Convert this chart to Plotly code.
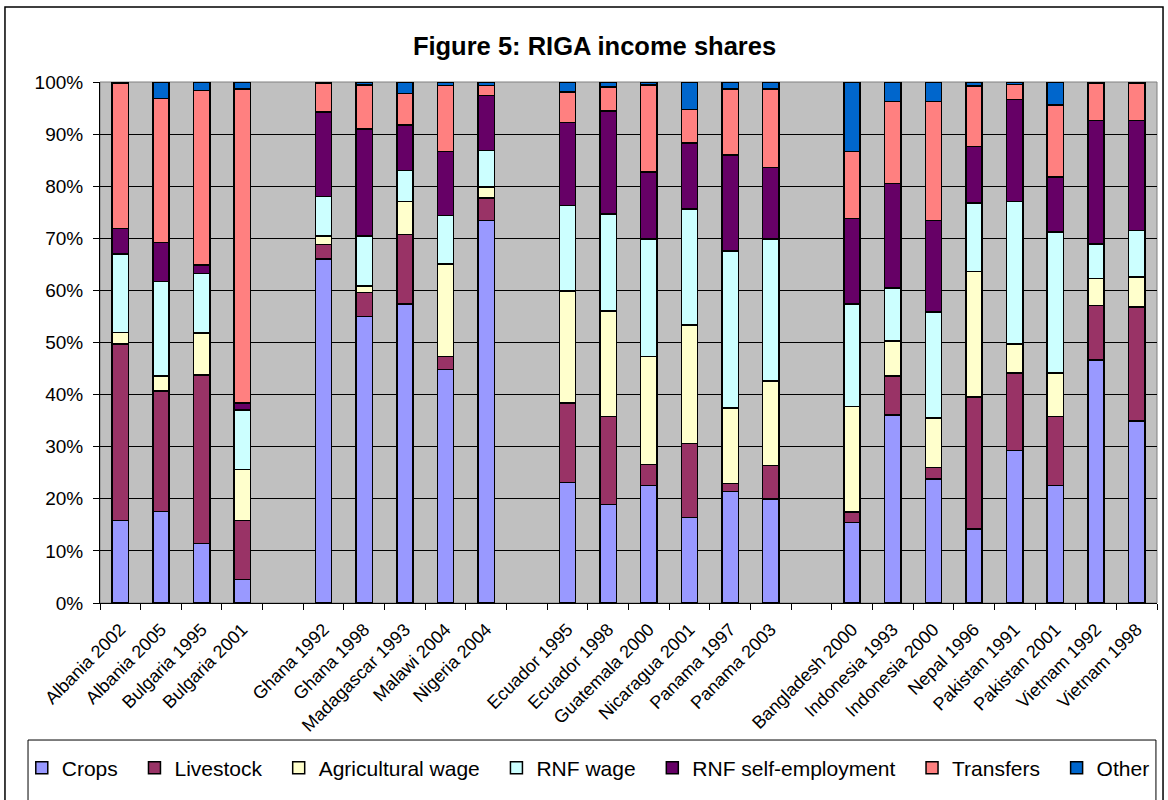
import plotly.graph_objects as go

# Survey groups (Eastern Europe, Africa, Latin America, Asia)
group_europe = ["Albania 2002", "Albania 2005", "Bulgaria 1995", "Bulgaria 2001"]
group_africa = ["Ghana 1992", "Ghana 1998", "Madagascar 1993", "Malawi 2004", "Nigeria 2004"]
group_latam = ["Ecuador 1995", "Ecuador 1998", "Guatemala 2000", "Nicaragua 2001",
               "Panama 1997", "Panama 2003"]
group_asia = ["Bangladesh 2000", "Indonesia 1993", "Indonesia 2000", "Nepal 1996",
              "Pakistan 1991", "Pakistan 2001", "Vietnam 1992", "Vietnam 1998"]

# Income shares (%), in survey order above
crops = [15.8, 17.6, 11.4, 4.5,
         66.0, 55.0, 57.4, 44.8, 73.4,
         23.1, 18.9, 22.6, 16.4, 21.4, 20.0,
         15.5, 36.1, 23.8, 14.2, 29.3, 22.6, 46.6, 34.9]
livestock = [33.9, 23.1, 32.4, 11.3,
             2.8, 4.6, 13.3, 2.5, 4.3,
             15.3, 16.9, 4.0, 14.2, 1.5, 6.4,
             2.0, 7.5, 2.2, 25.3, 14.8, 13.2, 10.5, 21.9]
ag_wage = [2.2, 2.9, 8.0, 9.8,
           1.6, 1.2, 6.4, 17.8, 2.1,
           21.5, 20.2, 20.7, 22.8, 14.5, 16.2,
           20.2, 6.7, 9.5, 24.1, 5.6, 8.3, 5.2, 5.8]
rnf_wage = [15.1, 18.1, 11.4, 11.4,
            7.6, 9.6, 5.9, 9.3, 7.1,
            16.4, 18.7, 22.6, 22.2, 30.2, 27.3,
            19.7, 10.2, 20.4, 13.2, 27.4, 27.1, 6.6, 8.9]
rnf_self = [4.9, 7.5, 1.7, 1.4,
            16.2, 20.6, 8.7, 12.3, 10.5,
            15.9, 19.7, 12.8, 12.7, 18.4, 13.7,
            16.4, 20.0, 17.5, 10.8, 19.5, 10.6, 23.7, 21.1]
transfers = [27.8, 27.6, 33.5, 60.3,
             5.5, 8.4, 6.1, 12.6, 1.9,
             5.9, 4.6, 16.7, 6.4, 12.7, 15.1,
             12.9, 15.8, 22.9, 11.6, 2.9, 13.8, 7.1, 7.1]
other = [0.3, 3.2, 1.6, 1.3,
         0.3, 0.6, 2.2, 0.7, 0.7,
         1.9, 1.0, 0.6, 5.3, 1.3, 1.3,
         13.3, 3.7, 3.7, 0.8, 0.5, 4.4, 0.3, 0.3]

series_names = ["Crops", "Livestock", "Agricultural wage", "RNF wage",
                "RNF self-employment", "Transfers", "Other"]
series_values = [crops, livestock, ag_wage, rnf_wage, rnf_self, transfers, other]
series_colors = ["#9999FF", "#993366", "#FFFFCC", "#CCFFFF", "#660066", "#FF8080", "#0066CC"]

# Build the category axis with one empty slot between groups
groups = [group_europe, group_africa, group_latam, group_asia]
categories = []
slot_index = []  # index into the data lists, or None for spacer slots
k = 0
for g, names in enumerate(groups):
    if g > 0:
        categories.append(" " * g)
        slot_index.append(None)
    for name in names:
        categories.append(name)
        slot_index.append(k)
        k += 1

FONT = "Liberation Sans, Arial, sans-serif"
PAD = "\u00a0\u00a0"  # a little extra room between legend entries, like Excel

fig = go.Figure()
for name, vals, color in zip(series_names, series_values, series_colors):
    y = [None if i is None else vals[i] / 100.0 for i in slot_index]
    fig.add_trace(go.Bar(
        x=categories,
        y=y,
        name=name + PAD,
        hovertemplate="%{x}<br>" + name + ": %{y:.1%}<extra></extra>",
        marker=dict(color=color, line=dict(color="black", width=1.5))
    ))

# Plot-area frame, outer chart border and legend box
fig.add_shape(type="rect", xref="paper", yref="paper", x0=0, x1=1, y0=0, y1=1,
              line=dict(color="#808080", width=1), layer="below")
fig.add_shape(type="rect", xref="paper", yref="paper",
              x0=-0.0899, x1=1.0057, y0=-0.45, y1=1.144,
              line=dict(color="black", width=1.5))
fig.add_shape(type="rect", xref="paper", yref="paper",
              x0=-0.0681, x1=0.999, y0=-0.45, y1=-0.263,
              line=dict(color="black", width=1))

fig.update_layout(
    barmode="stack",
    bargap=0.6,
    width=1168,
    height=800,
    margin=dict(l=100, r=11, t=82, b=197),
    paper_bgcolor="white",
    plot_bgcolor="#C0C0C0",
    font=dict(family=FONT, size=18, color="black"),
    title=dict(text="<b>Figure 5: RIGA income shares</b>", x=0.509, xanchor="center",
               y=0.943, yanchor="middle", font=dict(family=FONT, size=25.5, color="black")),
    showlegend=True,
    legend=dict(
        orientation="h",
        x=-0.074, xanchor="left",
        y=-0.317, yanchor="middle",
        font=dict(family=FONT, size=21),
        bgcolor="rgba(0,0,0,0)",
        traceorder="normal",
        itemwidth=30
    ),
    xaxis=dict(
        type="category",
        categoryorder="array",
        categoryarray=categories,
        tickangle=-45,
        tickson="boundaries",
        ticks="outside",
        ticklen=6,
        tickcolor="black",
        showline=True,
        linecolor="black",
        linewidth=1,
        showgrid=False,
        ticklabelstandoff=8,
        tickfont=dict(family=FONT, size=18)
    ),
    yaxis=dict(
        range=[0, 1],
        tickvals=[0, 0.1, 0.2, 0.3, 0.4, 0.5, 0.6, 0.7, 0.8, 0.9, 1.0],
        tickformat=".0%",
        ticks="outside",
        ticklen=6,
        tickcolor="black",
        showline=True,
        linecolor="black",
        linewidth=1,
        showgrid=True,
        gridcolor="black",
        gridwidth=1,
        zeroline=False,
        ticklabelstandoff=6,
        tickfont=dict(family=FONT, size=19)
    )
)

# the page's default 8px body margin would shift the whole chart
fig.write_html("out.html", config={"displayModeBar": False},
               post_script="document.body.style.margin='0px';")
